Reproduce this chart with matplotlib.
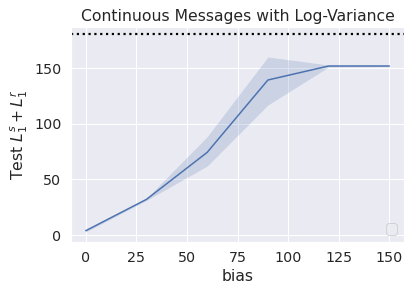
import matplotlib
matplotlib.use("Agg")
import matplotlib.pyplot as plt
import seaborn as sns

sns.set_theme(style="darkgrid", font_scale=1.3)

bias = [0, 30, 60, 90, 120, 150]
mean_loss = [3.9, 32.1, 74.4, 139.5, 152.1, 152.1]
lower_loss = [2.8, 31.2, 62.1, 117.0, 151.2, 151.6]
upper_loss = [5.0, 33.0, 88.5, 160.2, 153.0, 152.6]
ref_line = 180.6
xticks = [0, 25, 50, 75, 100, 125, 150]
yticks = [0, 50, 100, 150]

W, H = 411, 292
fig = plt.figure(figsize=(W / 72, H / 72), dpi=72)
ax = fig.add_axes([71 / W, 1 - 241.7 / H, (404.3 - 71) / W, (241.7 - 27) / H])
c = sns.color_palette()[0]
ax.plot(bias, mean_loss, color=c, lw=1.5)
ax.fill_between(bias, lower_loss, upper_loss, color=c, alpha=0.2, lw=0)
ax.axhline(ref_line, color="black", ls=":", lw=2.2)
ax.set_xlim(-7.3, 157.4)
ax.set_ylim(-6.0, 187.2)
ax.set_xticks(xticks)
ax.set_yticks(yticks)
ax.set_xlabel("bias")
ax.set_ylabel("Test $L_1^s + L_1^r$")
ax.set_title("Continuous Messages with Log-Variance")
ax.legend(handles=[], loc="lower right")
fig.savefig("out.png", dpi=72)
